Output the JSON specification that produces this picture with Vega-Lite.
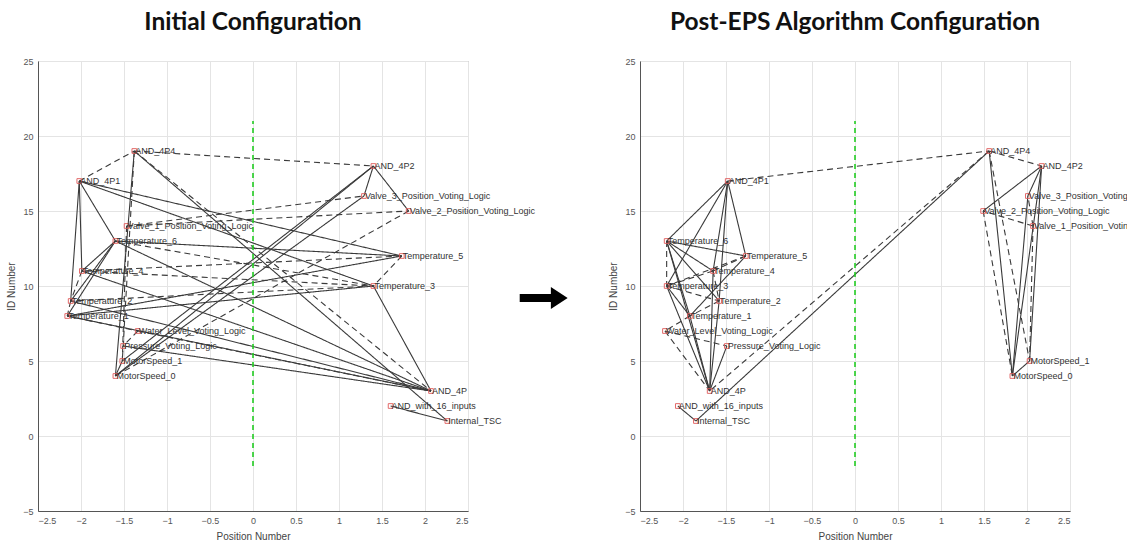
{
  "$schema": "https://vega.github.io/schema/vega-lite/v6.json",
  "background": "white",
  "padding": {"left": 6, "top": 9, "right": 5, "bottom": 5},
  "bounds": "flush",
  "spacing": 172,
  "config": {
    "view": {"stroke": "#9a9a9a", "strokeWidth": 1},
    "axis": {"labelFont": "Liberation Sans", "labelFontSize": 9, "labelColor": "#555", "titleFont": "Liberation Sans", "titleFontSize": 10, "titleFontWeight": "normal", "titleColor": "#444", "gridColor": "#e4e4e4", "domainColor": "#555", "tickSize": 0, "labelPadding": 5, "titlePadding": 6},
    "title": {"font": "Lato", "fontSize": 24.5, "fontWeight": "bold", "color": "#111", "offset": 22}
  },
  "datasets": {
    "initialNodes": [
      {"name": "AND_4P4", "x": -1.38, "y": 19},
      {"name": "AND_4P2", "x": 1.40, "y": 18},
      {"name": "AND_4P1", "x": -2.02, "y": 17},
      {"name": "Valve_3_Position_Voting_Logic", "x": 1.29, "y": 16},
      {"name": "Valve_2_Position_Voting_Logic", "x": 1.81, "y": 15},
      {"name": "Valve_1_Position_Voting_Logic", "x": -1.47, "y": 14},
      {"name": "Temperature_6", "x": -1.60, "y": 13},
      {"name": "Temperature_5", "x": 1.73, "y": 12},
      {"name": "Temperature_4", "x": -1.99, "y": 11},
      {"name": "Temperature_3", "x": 1.40, "y": 10},
      {"name": "Temperature_2", "x": -2.12, "y": 9},
      {"name": "Temperature_1", "x": -2.16, "y": 8},
      {"name": "Water_Level_Voting_Logic", "x": -1.34, "y": 7},
      {"name": "Pressure_Voting_Logic", "x": -1.51, "y": 6},
      {"name": "MotorSpeed_1", "x": -1.52, "y": 5},
      {"name": "MotorSpeed_0", "x": -1.60, "y": 4},
      {"name": "AND_4P", "x": 2.07, "y": 3},
      {"name": "AND_with_16_inputs", "x": 1.60, "y": 2},
      {"name": "Internal_TSC", "x": 2.26, "y": 1}
    ],
    "finalNodes": [
      {"name": "AND_4P4", "x": 1.56, "y": 19},
      {"name": "AND_4P2", "x": 2.17, "y": 18},
      {"name": "AND_4P1", "x": -1.48, "y": 17},
      {"name": "Valve_3_Position_Voting_Logic", "x": 2.01, "y": 16},
      {"name": "Valve_2_Position_Voting_Logic", "x": 1.49, "y": 15},
      {"name": "Valve_1_Position_Voting_Logic", "x": 2.07, "y": 14},
      {"name": "Temperature_6", "x": -2.19, "y": 13},
      {"name": "Temperature_5", "x": -1.27, "y": 12},
      {"name": "Temperature_4", "x": -1.65, "y": 11},
      {"name": "Temperature_3", "x": -2.19, "y": 10},
      {"name": "Temperature_2", "x": -1.58, "y": 9},
      {"name": "Temperature_1", "x": -1.92, "y": 8},
      {"name": "Water_Level_Voting_Logic", "x": -2.21, "y": 7},
      {"name": "Pressure_Voting_Logic", "x": -1.49, "y": 6},
      {"name": "MotorSpeed_1", "x": 2.03, "y": 5},
      {"name": "MotorSpeed_0", "x": 1.83, "y": 4},
      {"name": "AND_4P", "x": -1.69, "y": 3},
      {"name": "AND_with_16_inputs", "x": -2.06, "y": 2},
      {"name": "Internal_TSC", "x": -1.85, "y": 1}
    ],
    "edges": [
      {"source": "AND_4P1", "target": "AND_4P4", "kind": "secondary"},
      {"source": "AND_4P4", "target": "AND_4P2", "kind": "secondary"},
      {"source": "AND_4P4", "target": "AND_4P", "kind": "secondary"},
      {"source": "AND_4P4", "target": "Internal_TSC", "kind": "primary"},
      {"source": "AND_4P4", "target": "MotorSpeed_0", "kind": "primary"},
      {"source": "AND_4P4", "target": "MotorSpeed_1", "kind": "secondary"},
      {"source": "AND_4P2", "target": "Valve_3_Position_Voting_Logic", "kind": "primary"},
      {"source": "AND_4P2", "target": "Valve_2_Position_Voting_Logic", "kind": "primary"},
      {"source": "AND_4P2", "target": "MotorSpeed_0", "kind": "primary"},
      {"source": "AND_4P2", "target": "MotorSpeed_1", "kind": "primary"},
      {"source": "Valve_1_Position_Voting_Logic", "target": "Valve_3_Position_Voting_Logic", "kind": "secondary"},
      {"source": "Valve_1_Position_Voting_Logic", "target": "Valve_2_Position_Voting_Logic", "kind": "secondary"},
      {"source": "Valve_1_Position_Voting_Logic", "target": "MotorSpeed_1", "kind": "secondary"},
      {"source": "Valve_2_Position_Voting_Logic", "target": "MotorSpeed_0", "kind": "secondary"},
      {"source": "Valve_3_Position_Voting_Logic", "target": "MotorSpeed_0", "kind": "primary"},
      {"source": "MotorSpeed_0", "target": "MotorSpeed_1", "kind": "primary"},
      {"source": "AND_with_16_inputs", "target": "Internal_TSC", "kind": "primary"},
      {"source": "AND_4P1", "target": "Temperature_6", "kind": "primary"},
      {"source": "AND_4P1", "target": "Temperature_5", "kind": "primary"},
      {"source": "AND_4P1", "target": "Temperature_4", "kind": "primary"},
      {"source": "AND_4P1", "target": "Temperature_3", "kind": "primary"},
      {"source": "AND_4P1", "target": "Temperature_2", "kind": "primary"},
      {"source": "Temperature_6", "target": "Temperature_5", "kind": "primary"},
      {"source": "Temperature_6", "target": "Temperature_4", "kind": "primary"},
      {"source": "Temperature_6", "target": "Temperature_3", "kind": "secondary"},
      {"source": "Temperature_6", "target": "Temperature_2", "kind": "primary"},
      {"source": "Temperature_6", "target": "Temperature_1", "kind": "primary"},
      {"source": "Temperature_6", "target": "AND_4P", "kind": "primary"},
      {"source": "Temperature_5", "target": "Temperature_4", "kind": "secondary"},
      {"source": "Temperature_5", "target": "Temperature_3", "kind": "secondary"},
      {"source": "Temperature_5", "target": "Temperature_1", "kind": "primary"},
      {"source": "Temperature_4", "target": "Temperature_3", "kind": "secondary"},
      {"source": "Temperature_4", "target": "Temperature_2", "kind": "secondary"},
      {"source": "Temperature_3", "target": "Temperature_2", "kind": "secondary"},
      {"source": "Temperature_3", "target": "Temperature_1", "kind": "primary"},
      {"source": "Temperature_3", "target": "AND_4P", "kind": "primary"},
      {"source": "Temperature_2", "target": "Temperature_1", "kind": "secondary"},
      {"source": "Temperature_2", "target": "AND_4P", "kind": "primary"},
      {"source": "Temperature_1", "target": "Water_Level_Voting_Logic", "kind": "secondary"},
      {"source": "Temperature_1", "target": "AND_4P", "kind": "primary"},
      {"source": "Water_Level_Voting_Logic", "target": "Pressure_Voting_Logic", "kind": "secondary"},
      {"source": "Water_Level_Voting_Logic", "target": "AND_4P", "kind": "secondary"},
      {"source": "Pressure_Voting_Logic", "target": "AND_4P", "kind": "primary"},
      {"source": "Temperature_4", "target": "AND_4P", "kind": "primary"}
    ],
    "divider": [{"x": 0, "y": -2, "y2": 21}],
    "arrow": [{"x": 3.38, "y": 9.2}]
  },
  "hconcat": [
    {
      "width": 430,
      "height": 450,
      "title": {"text": "Initial Configuration"},
      "layer": [
        {
          "data": {"name": "edges"},
          "transform": [
            {"lookup": "source", "from": {"data": {"name": "initialNodes"}, "key": "name", "fields": ["x", "y"]}, "as": ["x", "y"]},
            {"lookup": "target", "from": {"data": {"name": "initialNodes"}, "key": "name", "fields": ["x", "y"]}, "as": ["x2", "y2"]}
          ],
          "mark": {"type": "rule", "color": "#3a3a3a", "strokeWidth": 1.1, "clip": true},
          "encoding": {
            "x": {"field": "x", "type": "quantitative", "scale": {"domain": [-2.5, 2.5], "nice": false, "zero": false}, "axis": {"title": "Position Number", "values": [-2.5, -2, -1.5, -1, -0.5, 0, 0.5, 1, 1.5, 2, 2.5], "format": "~g", "grid": true}},
            "y": {"field": "y", "type": "quantitative", "scale": {"domain": [-5, 25], "nice": false, "zero": false}, "axis": {"title": "ID Number", "values": [-5, 0, 5, 10, 15, 20, 25], "format": "~g", "grid": true}},
            "x2": {"field": "x2"},
            "y2": {"field": "y2"},
            "strokeDash": {"field": "kind", "type": "nominal", "scale": {"domain": ["primary", "secondary"], "range": [[1, 0], [6, 4]]}, "legend": null}
          }
        },
        {
          "data": {"name": "divider"},
          "mark": {"type": "rule", "color": "#22cc22", "strokeWidth": 1.6, "strokeDash": [5, 4]},
          "encoding": {
            "x": {"field": "x", "type": "quantitative"},
            "y": {"field": "y", "type": "quantitative"},
            "y2": {"field": "y2"}
          }
        },
        {
          "data": {"name": "initialNodes"},
          "mark": {"type": "point", "shape": "square", "size": 22, "filled": false, "color": "#e05a5a", "strokeWidth": 1, "opacity": 0.9},
          "encoding": {
            "x": {"field": "x", "type": "quantitative"},
            "y": {"field": "y", "type": "quantitative"}
          }
        },
        {
          "data": {"name": "initialNodes"},
          "mark": {"type": "text", "align": "left", "baseline": "middle", "dx": 1, "font": "Liberation Sans", "fontSize": 9, "color": "#333"},
          "encoding": {
            "x": {"field": "x", "type": "quantitative"},
            "y": {"field": "y", "type": "quantitative"},
            "text": {"field": "name"}
          }
        },
        {
          "data": {"name": "arrow"},
          "mark": {"type": "point", "shape": "M-1,-0.17L0.3,-0.17L0.3,-0.46L1,0L0.3,0.46L0.3,0.17L-1,0.17Z", "size": 2300, "filled": true, "color": "#000", "opacity": 1},
          "encoding": {
            "x": {"field": "x", "type": "quantitative"},
            "y": {"field": "y", "type": "quantitative"}
          }
        }
      ]
    },
    {
      "width": 430,
      "height": 450,
      "title": {"text": "Post-EPS Algorithm Configuration"},
      "layer": [
        {
          "data": {"name": "edges"},
          "transform": [
            {"lookup": "source", "from": {"data": {"name": "finalNodes"}, "key": "name", "fields": ["x", "y"]}, "as": ["x", "y"]},
            {"lookup": "target", "from": {"data": {"name": "finalNodes"}, "key": "name", "fields": ["x", "y"]}, "as": ["x2", "y2"]}
          ],
          "mark": {"type": "rule", "color": "#3a3a3a", "strokeWidth": 1.1, "clip": true},
          "encoding": {
            "x": {"field": "x", "type": "quantitative", "scale": {"domain": [-2.5, 2.5], "nice": false, "zero": false}, "axis": {"title": "Position Number", "values": [-2.5, -2, -1.5, -1, -0.5, 0, 0.5, 1, 1.5, 2, 2.5], "format": "~g", "grid": true}},
            "y": {"field": "y", "type": "quantitative", "scale": {"domain": [-5, 25], "nice": false, "zero": false}, "axis": {"title": "ID Number", "values": [-5, 0, 5, 10, 15, 20, 25], "format": "~g", "grid": true}},
            "x2": {"field": "x2"},
            "y2": {"field": "y2"},
            "strokeDash": {"field": "kind", "type": "nominal", "scale": {"domain": ["primary", "secondary"], "range": [[1, 0], [6, 4]]}, "legend": null}
          }
        },
        {
          "data": {"name": "divider"},
          "mark": {"type": "rule", "color": "#22cc22", "strokeWidth": 1.6, "strokeDash": [5, 4]},
          "encoding": {
            "x": {"field": "x", "type": "quantitative"},
            "y": {"field": "y", "type": "quantitative"},
            "y2": {"field": "y2"}
          }
        },
        {
          "data": {"name": "finalNodes"},
          "mark": {"type": "point", "shape": "square", "size": 22, "filled": false, "color": "#e05a5a", "strokeWidth": 1, "opacity": 0.9},
          "encoding": {
            "x": {"field": "x", "type": "quantitative"},
            "y": {"field": "y", "type": "quantitative"}
          }
        },
        {
          "data": {"name": "finalNodes"},
          "mark": {"type": "text", "align": "left", "baseline": "middle", "dx": 1, "font": "Liberation Sans", "fontSize": 9, "color": "#333"},
          "encoding": {
            "x": {"field": "x", "type": "quantitative"},
            "y": {"field": "y", "type": "quantitative"},
            "text": {"field": "name"}
          }
        }
      ]
    }
  ]
}
